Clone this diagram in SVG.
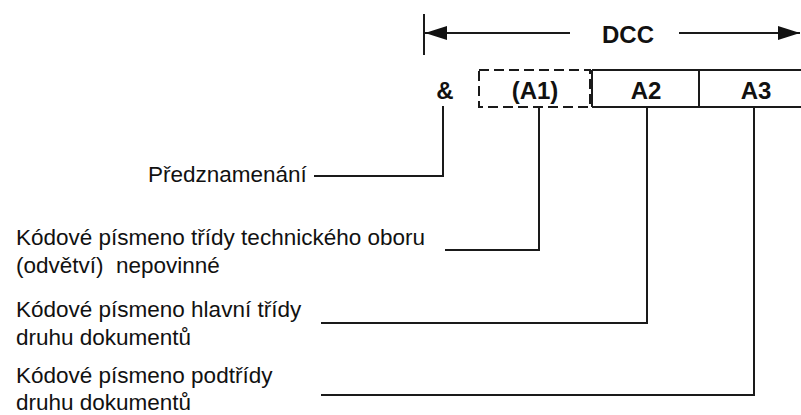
<svg xmlns="http://www.w3.org/2000/svg" width="801" height="415" viewBox="0 0 801 415">
<style>
.lbl{font-family:"Liberation Sans",Arial,sans-serif;font-size:22.5px;fill:#111;white-space:pre}
.box{font-family:"Liberation Sans",Arial,sans-serif;font-size:24px;font-weight:bold;fill:#111;text-anchor:middle}
.ln{stroke:#1a1a1a;stroke-width:2;fill:none}
.dash{stroke:#1a1a1a;stroke-width:2;fill:none;stroke-dasharray:10 5}
</style>
<defs>
<marker id="ah" viewBox="0 0 22 14" refX="22" refY="7" markerWidth="22" markerHeight="14" markerUnits="userSpaceOnUse" orient="auto-start-reverse">
<path d="M0,0 L22,7 L0,14 Z" fill="#111"/>
</marker>
</defs>
<g id="dimension">
<line class="ln" x1="424" y1="14" x2="424" y2="55"/>
<line class="ln" x1="425" y1="33" x2="570" y2="33" marker-start="url(#ah)"/>
<line class="ln" x1="679" y1="33" x2="800" y2="33" marker-end="url(#ah)"/>
<text class="box" x="628" y="43">DCC</text>
</g>
<g id="amp"><text class="box" x="445" y="99">&amp;</text></g>
<g id="A1">
<rect class="dash" x="479" y="70" width="111" height="37"/>
<text class="box" x="535" y="99">(A1)</text>
</g>
<g id="A2">
<path class="ln" d="M592,70 H699 M592,107 H699 M592,70 V107"/>
<text class="box" x="646" y="99">A2</text>
</g>
<g id="A3">
<path class="ln" d="M699,70 H801 M699,107 H801 M699,70 V107"/>
<text class="box" x="756" y="99">A3</text>
</g>
<g id="connectors">
<path class="ln" d="M443,106 V176 H314"/>
<path class="ln" d="M539,107 V250 H445"/>
<path class="ln" d="M647,107 V323 H321"/>
<path class="ln" d="M754,107 V395 H321"/>
</g>
<g id="label-prefix"><text class="lbl" x="148" y="182">Předznamenání</text></g>
<g id="label-A1">
<text class="lbl" x="16" y="245">Kódové písmeno třídy technického oboru</text>
<text class="lbl" x="16" y="273">(odvětví)  nepovinné</text>
</g>
<g id="label-A2">
<text class="lbl" x="16" y="317">Kódové písmeno hlavní třídy</text>
<text class="lbl" x="16" y="345">druhu dokumentů</text>
</g>
<g id="label-A3">
<text class="lbl" x="16" y="383">Kódové písmeno podtřídy</text>
<text class="lbl" x="16" y="410">druhu dokumentů</text>
</g>
</svg>
